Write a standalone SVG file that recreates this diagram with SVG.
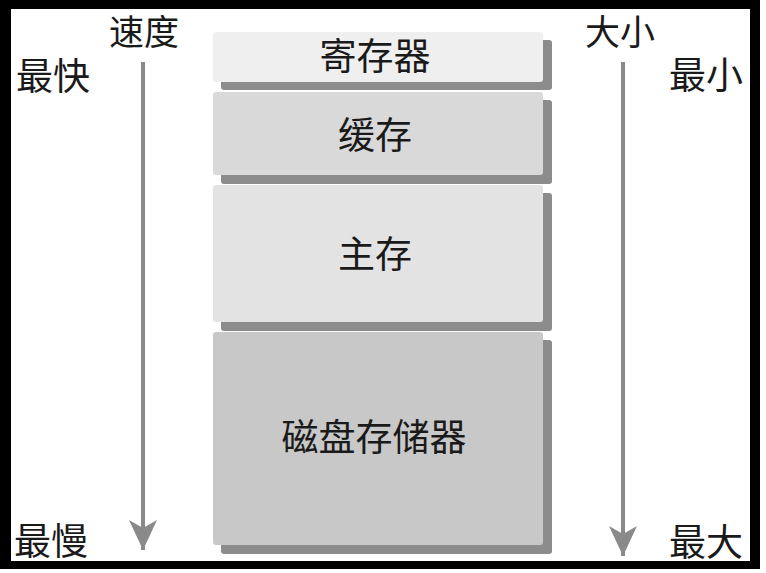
<svg xmlns="http://www.w3.org/2000/svg" width="766" height="573" viewBox="0 0 766 573">
  <style>
    .lbl { font-family: "Noto Sans CJK SC", "Noto Sans CJK JP", sans-serif; font-size: 37px; fill: #1a1a1a; }
    .top { font-size: 35px; }
    .btxt { font-family: "Noto Sans CJK SC", "Noto Sans CJK JP", sans-serif; font-size: 37px; fill: #1a1a1a; text-anchor: middle; }
    .shadow { fill: #8c8c8c; }
    .arrow { stroke: #8a8a8a; stroke-width: 4; fill: none; marker-end: url(#head); }
  </style>
  <defs>
    <marker id="head" viewBox="0 -15 32 30" refX="30" refY="0" markerWidth="32" markerHeight="30" markerUnits="userSpaceOnUse" orient="auto">
      <path d="M0,-14 L30,0 L0,14 L8,0 Z" fill="#8a8a8a"/>
    </marker>
  </defs>
  <rect x="0" y="0" width="766" height="573" fill="#ffffff"/>
  <rect x="0" y="0" width="760" height="569" fill="#000000"/>
  <rect x="11" y="9" width="739" height="552" fill="#ffffff"/>

  <g id="connectors">
    <line class="arrow" x1="143" y1="62" x2="143" y2="550"/>
    <line class="arrow" x1="623" y1="62" x2="623" y2="556"/>
  </g>

  <g id="label-speed"><text class="lbl top" x="109" y="45">速度</text></g>
  <g id="label-fastest"><text class="lbl" x="16" y="90">最快</text></g>
  <g id="label-slowest"><text class="lbl" x="14" y="555">最慢</text></g>
  <g id="label-size"><text class="lbl top" x="585" y="45">大小</text></g>
  <g id="label-smallest"><text class="lbl" x="669" y="89">最小</text></g>
  <g id="label-largest"><text class="lbl" x="669" y="556">最大</text></g>

  <g id="register">
    <rect class="shadow" x="221" y="40" width="331" height="50" rx="3"/>
    <rect x="213" y="32" width="330" height="50" rx="3" fill="#efefef"/>
    <text class="btxt" x="375" y="70">寄存器</text>
  </g>
  <g id="cache">
    <rect class="shadow" x="221" y="100" width="331" height="84" rx="3"/>
    <rect x="213" y="92" width="330" height="83" rx="3" fill="#d9d9d9"/>
    <text class="btxt" x="375" y="149">缓存</text>
  </g>
  <g id="main-memory">
    <rect class="shadow" x="221" y="193" width="331" height="138" rx="3"/>
    <rect x="213" y="185" width="330" height="137" rx="3" fill="#e3e3e3"/>
    <text class="btxt" x="375" y="268">主存</text>
  </g>
  <g id="disk">
    <rect class="shadow" x="221" y="340" width="331" height="214" rx="3"/>
    <rect x="213" y="332" width="330" height="213" rx="3" fill="#c8c8c8"/>
    <text class="btxt" x="374" y="451">磁盘存储器</text>
  </g>
</svg>
